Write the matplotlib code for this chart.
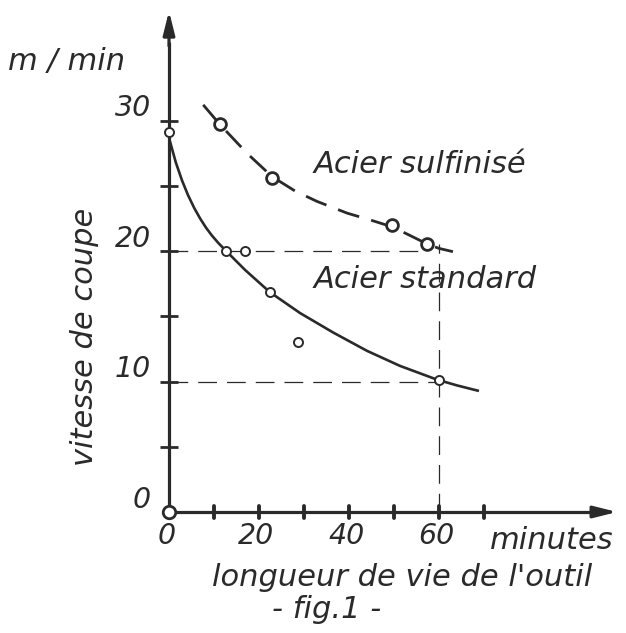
import matplotlib
matplotlib.use("Agg")
import matplotlib.pyplot as plt

# ---- data ----
std_pts_x = [0, 12.7, 16.9, 22.4, 28.7, 60]
std_pts_y = [29.1, 20.0, 20.0, 16.85, 13.0, 10.1]
std_curve_x = [0.3, 1.5, 2.9, 4.2, 5.6, 6.9, 8.2, 9.5, 11, 12.7, 16.9, 22.4, 29.1, 36.5, 44, 51.3, 59.5, 64, 68.6]
std_curve_y = [28.3, 26.8, 25.4, 24.3, 23.3, 22.5, 21.8, 21.2, 20.6, 20.0, 18.55, 16.85, 15.25, 13.75, 12.35, 11.2, 10.15, 9.7, 9.3]

sulf_pts_x = [11.3, 22.9, 49.6, 57.3]
sulf_pts_y = [29.7, 25.6, 22.0, 20.5]
sulf_curve_x = [7.6, 11.3, 17.3, 22.9, 28, 32.9, 39.6, 45, 49.6, 53.5, 57.3, 60, 63.1]
sulf_curve_y = [31.2, 29.7, 27.5, 25.7, 24.6, 23.8, 22.9, 22.35, 21.85, 21.2, 20.55, 20.2, 19.95]

origin_pt = (0, 0)
x_major = [0, 20, 40, 60]
x_minor = [10, 30, 50, 70]
y_major = [0, 10, 20, 30]
y_minor = [5, 15, 25]
guide_h = [(20.0, 57.3), (10.0, 60)]
guide_v = (60, 20.5)

INK = "#2a2a2a"
FONT = dict(family="DejaVu Sans", style="italic", color=INK)
FS_TICK = 20.5
FS = 22

W, H = 626, 633
fig = plt.figure(figsize=(W / 100, H / 100), dpi=100)
ax = fig.add_axes([0, 0, 1, 1])
# pixel mapping: x_px = 169 + 4.5*x ; y_px = 512 - 13.05*y
ax.set_xlim(-169 / 4.5, (W - 169) / 4.5)
ax.set_ylim(-(H - 512) / 13.05, 512 / 13.05)
ax.axis("off")

# axes lines with arrows
ax.plot([0, 0], [0, 36], color=INK, lw=2.3, solid_capstyle="butt")
ax.plot([0, 95], [0, 0], color=INK, lw=2.3, solid_capstyle="butt")
ax.annotate("", xy=(0, 38.6), xytext=(0, 35.5),
            arrowprops=dict(arrowstyle="-|>,head_length=1.4,head_width=0.35", color=INK, lw=2.3))
ax.annotate("", xy=(100.2, 0), xytext=(94, 0),
            arrowprops=dict(arrowstyle="-|>,head_length=1.4,head_width=0.35", color=INK, lw=2.3))

# ticks
for xv in x_major[1:] + x_minor:
    ax.plot([xv, xv], [-0.45, 0.45], color=INK, lw=2.8, solid_capstyle="round")
for yv in y_major[1:] + y_minor:
    ax.plot([-2.0, 2.0], [yv, yv], color=INK, lw=2.0, solid_capstyle="butt")

# tick labels
for xv in x_major:
    ax.text(xv - 0.6, -0.8, str(xv), fontsize=FS_TICK, ha="center", va="top", **FONT)
for yv in y_major:
    ax.text(-4.0, yv - 0.15, str(yv), fontsize=FS_TICK, ha="right", va="bottom", **FONT)

# guide dashed lines
for yv, xe in guide_h:
    ax.plot([0, xe], [yv, yv], color=INK, lw=0.9, dashes=(15, 8))
ax.plot([guide_v[0], guide_v[0]], [0, guide_v[1]], color=INK, lw=0.9, dashes=(15, 8))

# curves
ax.plot(std_curve_x, std_curve_y, color=INK, lw=1.9, solid_joinstyle="round")
ax.plot(sulf_curve_x, sulf_curve_y, color=INK, lw=2.0, dashes=(8, 4.5))

# points
ax.plot(std_pts_x, std_pts_y, "o", ms=6.5, mfc="white", mec=INK, mew=1.4, ls="none")
ax.plot(sulf_pts_x, sulf_pts_y, "o", ms=8.5, mfc="white", mec=INK, mew=2.0, ls="none")
ax.plot([origin_pt[0]], [origin_pt[1]], "o", ms=9, mfc="white", mec=INK, mew=2.0)

# texts
ax.text(-22.7, 34.5, "m / min", fontsize=FS, ha="center", va="center", **FONT)
ax.text(-18.7, 13.4, "vitesse de coupe", fontsize=FS, rotation=90, ha="center", va="center", **FONT)
ax.text(55.8, 26.6, "Acier sulfinisé", fontsize=FS, ha="center", va="center", **FONT)
ax.text(56.9, 17.8, "Acier standard", fontsize=FS, ha="center", va="center", **FONT)
ax.text(85.1, -2.15, "minutes", fontsize=FS, ha="center", va="center", **FONT)
ax.text(51.8, -5.05, "longueur de vie de l'outil", fontsize=FS, ha="center", va="center", **FONT)
ax.text(35.1, -7.5, "- fig.1 -", fontsize=FS, ha="center", va="center", **FONT)

fig.savefig("out.png", dpi=100, facecolor="white")
